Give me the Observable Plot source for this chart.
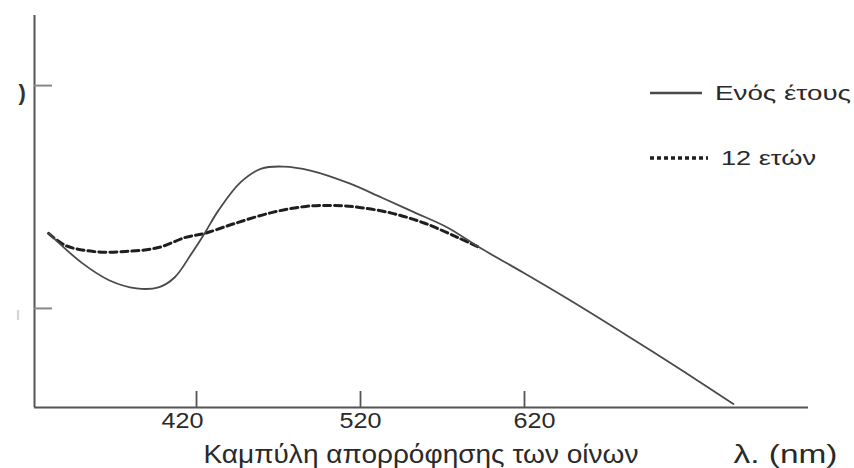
<!DOCTYPE html>
<html><head><meta charset="utf-8">
<script src="https://cdn.jsdelivr.net/npm/d3@7"></script>
<script src="https://cdn.jsdelivr.net/npm/@observablehq/plot@0.6"></script>
<style>
body{margin:0;background:#fff;}
#wrap{position:relative;width:854px;height:468px;overflow:hidden;}
#wrap svg{font-family:"Liberation Sans",Arial,sans-serif;}
#legend{position:absolute;left:0;top:0;}
</style>
</head><body>
<div id="wrap"></div>
<script>
// Wavelength (nm) and relative absorbance
const lambdaOneYear = [329.8, 350.5, 367, 383.4, 396.8, 406.6, 417, 424.9, 433.4, 446.8, 459.6, 473, 489.5, 513.3, 532.8, 552.9, 573, 592.6, 619.4, 649.3, 682.2, 715.7, 747.4];
const absOneYear    = [0.703, 0.582, 0.513, 0.481, 0.485, 0.525, 0.622, 0.703, 0.796, 0.909, 0.965, 0.973, 0.957, 0.905, 0.848, 0.788, 0.727, 0.646, 0.544, 0.427, 0.292, 0.151, 0.014];
const lambdaTwelve  = [329.8, 340.1, 357.2, 376.7, 396.8, 413.3, 424.9, 443.2, 466.3, 486.5, 502.9, 519.4, 539.5, 559.6, 579.1, 592.6];
const absTwelve     = [0.703, 0.654, 0.630, 0.630, 0.646, 0.687, 0.703, 0.743, 0.788, 0.812, 0.816, 0.808, 0.784, 0.743, 0.687, 0.646];
const xTicks = [420, 520, 620];
const xTickLabels = ["420", "520", "620"];
const yTicks = [0.4, 1.3];
const yTickLabels = ["ı", ")"];
const seriesNames = ["Ενός έτους", "12 ετών"];
const xLabel = "Καμπύλη απορρόφησης των οίνων";
const unitLabel = "λ. (nm)";
const xDomain = [321.2, 793.2];
const yDomain = [0, 1.583];

const oneYear = lambdaOneYear.map((l, i) => ({l, a: absOneYear[i]}));
const twelve = lambdaTwelve.map((l, i) => ({l, a: absTwelve[i]}));

const axisColor = "#555";
const textColor = "#2a2a2a";
const labelShift = [-14, 0, 10];

const chart = Plot.plot({
  width: 854, height: 468,
  marginLeft: 34, marginRight: 46, marginTop: 15, marginBottom: 61,
  x: {domain: xDomain, axis: null},
  y: {domain: yDomain, axis: null},
  marks: [
    Plot.ruleX([xDomain[0]], {stroke: axisColor, strokeWidth: 2}),
    Plot.ruleY([yDomain[0]], {stroke: axisColor, strokeWidth: 2}),
    Plot.tickX(xTicks, {x: d => d, insetTop: 376, stroke: axisColor, strokeWidth: 1.8}),
    Plot.tickY(yTicks, {y: d => d, insetRight: 756, stroke: "#888", strokeWidth: 2}),
    ...xTicks.map((t, i) => Plot.text([t], {x: d => d, text: () => xTickLabels[i], frameAnchor: "bottom", lineAnchor: "top", dy: 5, dx: labelShift[i], fontSize: 22, fill: textColor, className: "xtick"})),
    Plot.text([yTicks[1]], {y: d => d, text: () => yTickLabels[1], frameAnchor: "left", dx: -16, dy: 7, fontSize: 22, fontWeight: "bold", fill: "#333"}),
    Plot.text([yTicks[0]], {y: d => d, text: () => yTickLabels[0], frameAnchor: "left", dx: -19, dy: 6, fontSize: 18, fill: "#ccc"}),
    Plot.text([xLabel], {text: d => d, frameAnchor: "bottom-left", textAnchor: "start", lineAnchor: "top", dx: 169, dy: 38, fontSize: 25, fill: textColor, className: "xlabel"}),
    Plot.text([unitLabel], {text: d => d, frameAnchor: "bottom-left", textAnchor: "start", lineAnchor: "top", dx: 699, dy: 38, fontSize: 25, fill: textColor, className: "unitlabel"}),
    Plot.line(twelve, {x: "l", y: "a", curve: "catmull-rom", stroke: "#1e1e1e", strokeWidth: 3, strokeDasharray: "7,4"}),
    Plot.line(oneYear, {x: "l", y: "a", curve: "catmull-rom", stroke: "#4a4a4a", strokeWidth: 1.8})
  ]
});
document.getElementById("wrap").appendChild(chart);

// stretch texts to the reference widths
const svg = d3.select(chart);
svg.selectAll(".xtick text").attr("textLength", 42).attr("lengthAdjust", "spacingAndGlyphs");
svg.selectAll(".xlabel text").attr("textLength", 435).attr("lengthAdjust", "spacingAndGlyphs");
svg.selectAll(".unitlabel text").attr("textLength", 104).attr("lengthAdjust", "spacingAndGlyphs");

// legend overlay inside the plot area
const leg = d3.select("#wrap").append("svg")
  .attr("id", "legend").attr("width", 854).attr("height", 468)
  .style("font-family", "'Liberation Sans',Arial,sans-serif");
const rows = [
  {name: seriesNames[0], y: 93, dash: null, stroke: "#4a4a4a", sw: 2.5, x2: 702, tw: 136},
  {name: seriesNames[1], y: 158, dash: "4,3", stroke: "#1e1e1e", sw: 3.5, x2: 708, tw: 95}
];
rows.forEach(r => {
  leg.append("line").attr("x1", 650).attr("x2", r.x2).attr("y1", r.y).attr("y2", r.y)
    .attr("stroke", r.stroke).attr("stroke-width", r.sw).attr("stroke-dasharray", r.dash);
  leg.append("text").attr("x", r.x2 + 13).attr("y", r.y + 7)
    .attr("font-size", 21).attr("fill", textColor)
    .attr("textLength", r.tw).attr("lengthAdjust", "spacingAndGlyphs").text(r.name);
});
</script>
</body></html>
